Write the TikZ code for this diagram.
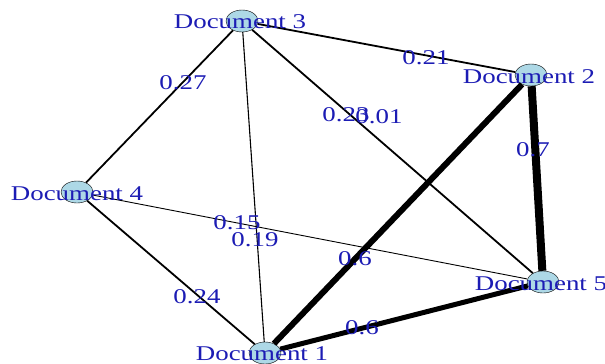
\documentclass[tikz,border=0pt]{standalone}
\usepackage{fontspec}
\newfontfamily\labelfont[FakeStretch=1.28]{Liberation Serif}
\usepackage{xcolor}
\usepackage{tikz}
\usetikzlibrary{shapes.geometric}
\definecolor{nodefill}{HTML}{ADD8E6}
\definecolor{labelblue}{RGB}{28,28,180}
\tikzset{
    graph/.style={x=1pt, y=-1pt},
    graph node/.style={ellipse, draw, fill=nodefill, thin,
        minimum width=32pt, minimum height=22pt, inner sep=0pt},
    graph text/.style={font=\labelfont\fontsize{21}{21}\selectfont,
        text=labelblue, inner sep=0pt},
    graph edge/.style={line width=#1},
    graph edge/.default=1.8pt,
    weight label/.style={font=\labelfont\fontsize{21}{21}\selectfont,
        text=labelblue, inner sep=0pt},
}

\begin{document}
\begin{tikzpicture}[graph]
            \useasboundingbox (0,0) rectangle (605,364);
            \node[graph node] (doc3) at (242,21) {};
            \node[graph node] (doc2) at (531,75) {};
            \node[graph node] (doc4) at (77,192) {};
            \node[graph node] (doc5) at (543,282) {};
            \node[graph node] (doc1) at (265,353) {};
            \draw[graph edge] (doc3) -- (doc2);
            \draw[graph edge] (doc3) -- (doc4);
            \draw[graph edge=1.1pt] (doc3) -- (doc1);
            \draw[graph edge] (doc3) -- (doc5);
            \draw[graph edge=0.9pt] (doc4) -- (doc5);
            \draw[graph edge] (doc4) -- (doc1);
            \draw[graph edge=8pt] (doc2) -- (doc5);
            \draw[graph edge=6pt] (doc2) -- (doc1);
            \draw[graph edge=5pt] (doc1) -- (doc5);
            \node[graph text] (doc3 text) at (240,22) {Document 3};
            \node[graph text] (doc2 text) at (529,77) {Document 2};
            \node[graph text] (doc4 text) at (77,194) {Document 4};
            \node[graph text] (doc5 text) at (541,284) {Document 5};
            \node[graph text] (doc1 text) at (262,354) {Document 1};
            \node[weight label] (w34) at (183,83) {0.27};
            \node[weight label] (w32) at (426,58) {0.21};
            \node[weight label] (w35) at (346,115) {0.23};
            \node[weight label] (w31) at (379,117) {0.01};
            \node[weight label] (w25) at (533,150) {0.7};
            \node[weight label] (w45) at (237,223) {0.15};
            \node[weight label] (w3l) at (255,240) {0.19};
            \node[weight label] (w21) at (355,259) {0.6};
            \node[weight label] (w41) at (197,297) {0.24};
            \node[weight label] (w15) at (362,328) {0.6};
        \end{tikzpicture}
\end{document}
